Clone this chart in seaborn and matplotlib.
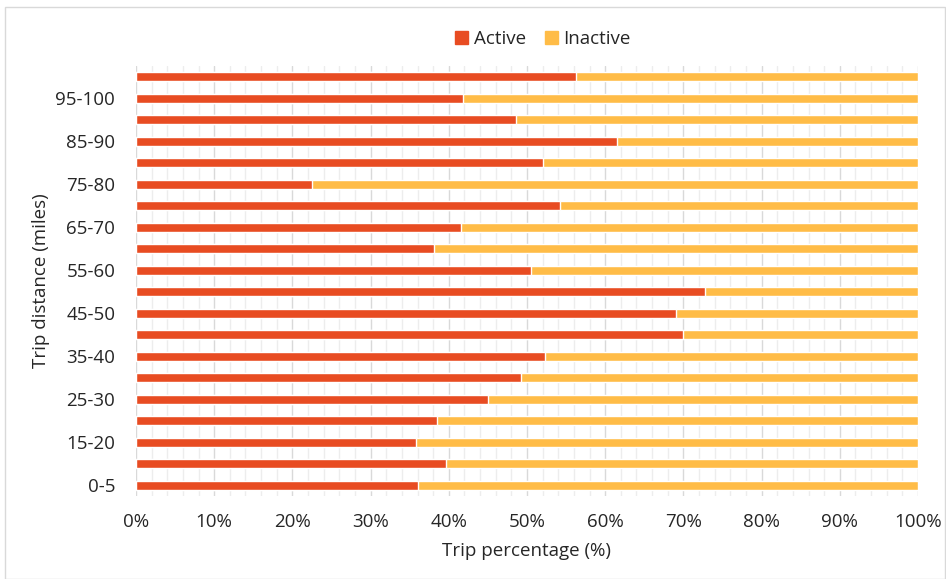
import numpy as np
import pandas as pd
import matplotlib.pyplot as plt
import seaborn as sns
from matplotlib.ticker import MultipleLocator, PercentFormatter
from matplotlib.patches import Rectangle, Patch

# trip distance bins, bottom to top (only every other one is labelled in the chart)
distance = ["0-5", "5-15", "15-20", "20-25", "25-30", "30-35", "35-40", "40-45",
            "45-50", "50-55", "55-60", "60-65", "65-70", "70-75", "75-80", "80-85",
            "85-90", "90-95", "95-100", "100+"]
active = [36.0, 39.6, 35.8, 38.5, 45.0, 49.2, 52.3, 70.0, 69.0, 72.8,
          50.5, 38.1, 41.6, 54.2, 22.5, 52.1, 61.5, 48.6, 41.8, 56.3]
inactive = [64.0, 60.4, 64.2, 61.5, 55.0, 50.8, 47.7, 30.0, 31.0, 27.2,
            49.5, 61.9, 58.4, 45.8, 77.5, 47.9, 38.5, 51.4, 58.2, 43.7]

red = "#E84C22"
yellow = "#FFBC47"
text_col = "#262626"

df = pd.DataFrame({"distance": distance, "Active": active, "Inactive": inactive})
df["total"] = df["Active"] + df["Inactive"]

sns.set_theme(style="white")
plt.rcParams["font.family"] = ["Open Sans", "DejaVu Sans"]

fig = plt.figure(figsize=(9.46, 5.79), dpi=100)
ax = fig.add_axes([136 / 946, 1 - 496 / 579, 782 / 946, 430 / 579])

order = distance[::-1]
sns.barplot(data=df, x="total", y="distance", order=order, color=yellow,
            width=0.42, saturation=1, orient="h", ax=ax, zorder=3)
sns.barplot(data=df, x="Active", y="distance", order=order, color=red,
            width=0.42, saturation=1, orient="h", ax=ax, zorder=4)

ax.set_xlim(0, 100)
ax.set_ylim(len(distance) - 0.5, -0.5)
ax.xaxis.set_major_locator(MultipleLocator(10))
ax.xaxis.set_minor_locator(MultipleLocator(2))
ax.xaxis.set_major_formatter(PercentFormatter(decimals=0))
ax.grid(axis="x", which="major", color="#D9D9D9", linewidth=1.0, zorder=0)
ax.grid(axis="x", which="minor", color="#EDEDED", linewidth=1.0, zorder=0)
ax.set_axisbelow(True)
for s in ax.spines.values():
    s.set_visible(False)

ax.set_yticks(range(len(order)))
ax.set_yticklabels([lab if i % 2 == 0 else "" for i, lab in
                    zip(range(len(distance)), distance)][::-1])
ax.tick_params(axis="both", length=0, labelsize=13.5, labelcolor=text_col)
ax.tick_params(axis="x", pad=12)
ax.tick_params(axis="y", pad=15)

ax.set_xlabel("Trip percentage (%)", fontsize=13.5, color=text_col, labelpad=8)
ax.set_ylabel("Trip distance (miles)", fontsize=13.5, color=text_col, labelpad=4)

handles = [Patch(color=red, label="Active"), Patch(color=yellow, label="Inactive")]
fig.legend(handles=handles, loc="center", bbox_to_anchor=(543 / 946, 1 - 39 / 579),
           ncol=2, frameon=False, fontsize=13.5, handlelength=0.7, handleheight=0.7,
           handletextpad=0.3, columnspacing=1.0, labelcolor=text_col)

fig.patches.append(Rectangle((5 / 946, 0), 940 / 946, 1 - 7 / 579, transform=fig.transFigure,
                             fill=False, edgecolor="#D9D9D9", linewidth=1.0))

fig.savefig("out.png", dpi=100, facecolor="white")
